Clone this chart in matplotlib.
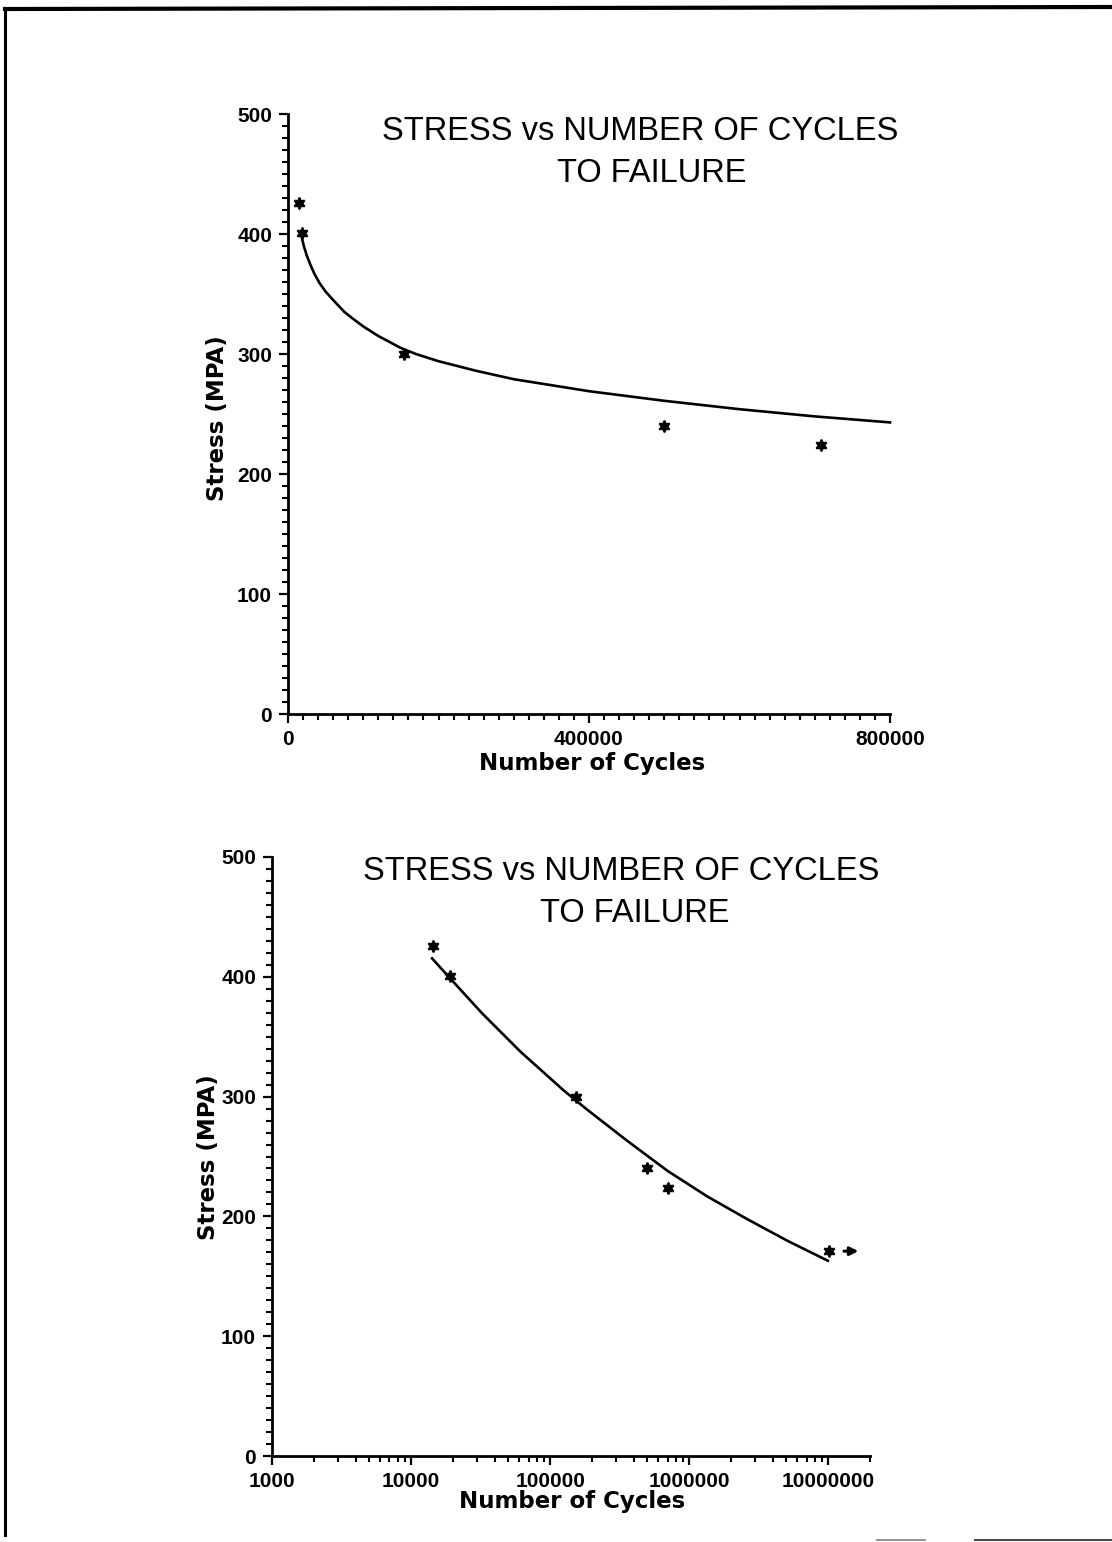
import matplotlib
matplotlib.use('Agg')
import matplotlib.pyplot as plt
from matplotlib.ticker import MultipleLocator, FixedLocator, NullFormatter, FixedFormatter
from matplotlib.lines import Line2D

# ---------------- data ----------------
cycles = [14400, 19000, 154000, 500000, 708000]
stress = [426, 401, 300, 240, 224]

runout_cycles = [10200000]
runout_stress = [171]
runout_arrow_cycles = [13000000, 16500000]

fit_lin_cycles = [18000, 21000, 25000, 30000, 35000, 42000, 50000, 60000, 75000,
                  85000, 100000, 120000, 150000, 170000, 200000, 250000, 300000,
                  400000, 500000, 600000, 700000, 800000]
fit_lin_stress = [398, 390, 382, 374, 367, 359, 352, 345, 335,
                  330, 323, 315, 305, 300, 294, 286, 279,
                  269, 261, 254, 248, 243]

fit_log_cycles = [14160, 18660, 32460, 61240, 125700, 185300, 359800, 699600,
                  1358000, 2638000, 5124000, 9950000]
fit_log_stress = [415.4, 400.0, 369.5, 337.5, 305.0, 289.0, 263.0, 238.0,
                  216.5, 197.5, 179.5, 163.0]

title_line1 = "STRESS vs NUMBER OF CYCLES"
title_line2 = "TO FAILURE"
xlabel = "Number of Cycles"
ylabel = "Stress (MPA)"
yticks = [0, 100, 200, 300, 400, 500]
lin_xticks = [0, 400000, 800000]
lin_xticklabels = ["0", "400000", "800000"]
log_xticks = [1000, 10000, 100000, 1000000, 10000000]
log_xticklabels = ["1000", "10000", "100000", "1000000", "10000000"]

# ---------------- figure ----------------
W, H = 1112, 1542
fig = plt.figure(figsize=(W / 100, H / 100), dpi=100)
fig.patch.set_facecolor('white')


def px(x, y):
    return x / W, 1 - y / H


def rect(l, t, r, b):
    return [l / W, 1 - b / H, (r - l) / W, (b - t) / H]


TICKFONT = dict(family='Liberation Sans', weight='bold', size=15)
LABELFONT = dict(family='DejaVu Sans', weight='bold', size=16.5)
TITLEFONT = dict(family='Liberation Sans', weight='normal', size=23.5)


def style_axes(ax):
    for s in ('top', 'right'):
        ax.spines[s].set_visible(False)
    for s in ('left', 'bottom'):
        ax.spines[s].set_linewidth(2.0)
        ax.spines[s].set_color('black')
    ax.tick_params(which='major', direction='out', length=6.5, width=1.6, pad=5)
    ax.tick_params(which='minor', direction='out', length=4, width=1.5)
    ax.set_yticks(yticks)
    ax.set_yticklabels([str(v) for v in yticks], fontdict=TICKFONT)
    ax.yaxis.set_minor_locator(MultipleLocator(10))
    ax.set_ylim(0, 500)
    ax.set_facecolor('none')


# ---------- top: linear axis ----------
ax1 = fig.add_axes(rect(288, 114, 890, 714))
style_axes(ax1)
ax1.set_xlim(0, 800000)
ax1.set_xticks(lin_xticks)
ax1.set_xticklabels(lin_xticklabels, fontdict=TICKFONT)
ax1.xaxis.set_minor_locator(MultipleLocator(20000))
ax1.plot(fit_lin_cycles, fit_lin_stress, color='black', lw=1.9,
         solid_joinstyle='round', clip_on=False)
ax1.plot(cycles, stress, linestyle='none', marker=(6, 1, 0), markersize=8.5,
         color='black', mec='black', mew=1.3, clip_on=False)

# ---------- bottom: log axis ----------
ax2 = fig.add_axes(rect(272, 857, 870, 1456))
style_axes(ax2)
ax2.set_xscale('log')
ax2.set_xlim(1000, 20000000)
ax2.xaxis.set_major_locator(FixedLocator(log_xticks))
ax2.xaxis.set_major_formatter(FixedFormatter(log_xticklabels))
minor = [m * 10 ** e for e in range(3, 8) for m in range(2, 10) if m * 10 ** e <= 20000000]
ax2.xaxis.set_minor_locator(FixedLocator(minor))
ax2.xaxis.set_minor_formatter(NullFormatter())
for lab in ax2.get_xticklabels():
    lab.set_fontfamily(TICKFONT['family'])
    lab.set_fontweight('bold')
    lab.set_fontsize(TICKFONT['size'])
ax2.plot(fit_log_cycles, fit_log_stress, color='black', lw=1.9,
         solid_joinstyle='round', clip_on=False)
ax2.plot(cycles + runout_cycles, stress + runout_stress, linestyle='none',
         marker=(6, 1, 0), markersize=8.5, color='black', mec='black', mew=1.3,
         clip_on=False)
ax2.annotate('', xy=(runout_arrow_cycles[1], runout_stress[0]),
             xytext=(runout_arrow_cycles[0], runout_stress[0]),
             arrowprops=dict(arrowstyle='-|>', color='black', lw=2.2,
                             mutation_scale=12, shrinkA=0, shrinkB=0))

# ---------- titles & labels ----------
fig.text(*px(640, 140), title_line1, ha='center', va='baseline', **TITLEFONT)
fig.text(*px(652, 182), title_line2, ha='center', va='baseline', **TITLEFONT)
fig.text(*px(621, 880), title_line1, ha='center', va='baseline', **TITLEFONT)
fig.text(*px(635, 922), title_line2, ha='center', va='baseline', **TITLEFONT)

fig.text(*px(592, 770), xlabel, ha='center', va='baseline', **LABELFONT)
fig.text(*px(572, 1508), xlabel, ha='center', va='baseline', **LABELFONT)
fig.text(*px(224, 418), ylabel, ha='center', va='baseline', rotation=90,
         rotation_mode='anchor', **LABELFONT)
fig.text(*px(215, 1157), ylabel, ha='center', va='baseline', rotation=90,
         rotation_mode='anchor', **LABELFONT)

# ---------- page border (scan frame) ----------
fig.add_artist(Line2D([5 / W, 1.0], [1 - 9 / H, 1 - 7 / H], color='black',
                      lw=3.0, transform=fig.transFigure))
fig.add_artist(Line2D([5 / W, 5 / W], [1 - 9 / H, 1 - 1535 / H], color='black',
                      lw=2.2, transform=fig.transFigure))
fig.add_artist(Line2D([877 / W, 925 / W], [1 - 1540 / H, 1 - 1540 / H], color='0.5',
                      lw=1.2, transform=fig.transFigure))
fig.add_artist(Line2D([975 / W, 1.0], [1 - 1540 / H, 1 - 1540 / H], color='0.3',
                      lw=1.5, transform=fig.transFigure))

fig.savefig('out.png', dpi=100, facecolor='white')
